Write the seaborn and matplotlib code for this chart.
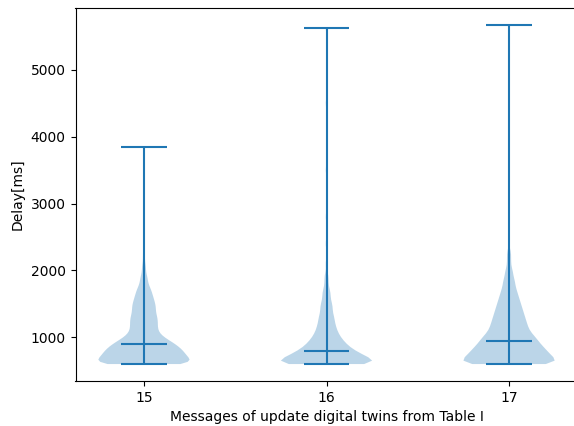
import numpy as np
import matplotlib
matplotlib.use("Agg")
import matplotlib.pyplot as plt
import seaborn as sns

categories = ["15", "16", "17"]

# Delay values [ms] and how many messages had them
g15_values = [600, 650, 700, 750, 800, 850, 900, 950, 1000, 1050, 1100, 1150, 1200,
              1250, 1300, 1350, 1400, 1450, 1500, 1550, 1600, 1650, 1700, 1750,
              1800, 1850, 1900, 1950, 2000, 2050, 2100,
              2200, 2300, 2500, 2800, 3200, 3840]
g15_counts = [30, 24, 22, 21, 20, 18, 16, 13, 10, 8, 7, 7, 7,
              7, 7, 6, 6, 6, 6, 5, 5, 4, 4, 3,
              2, 2, 2, 1, 1, 1, 1,
              1, 1, 1, 1, 1, 1]

g16_values = [600, 650, 700, 750, 800, 850, 900, 950, 1000, 1050, 1100, 1150, 1200,
              1250, 1300, 1350, 1400, 1450, 1500, 1550, 1600, 1650, 1700, 1750,
              1800, 1850, 1900, 1950,
              2100, 2400, 2800, 3500, 4500, 5625]
g16_counts = [30, 24, 20, 17, 14, 11, 10, 8, 7, 6, 5, 5, 4,
              4, 4, 3, 3, 3, 3, 2, 2, 2, 2, 1,
              1, 1, 1, 1,
              1, 1, 1, 1, 1, 1]

g17_values = [600, 650, 700, 750, 800, 850, 900, 950, 1000, 1050, 1100, 1150, 1200,
              1250, 1300, 1350, 1400, 1450, 1500, 1550, 1600, 1650, 1700, 1750,
              1800, 1850, 1900, 1950, 2000, 2050, 2100, 2150, 2200, 2250, 2300,
              2600, 3000, 3600, 4400, 5670]
g17_counts = [29, 23, 21, 20, 18, 17, 15, 14, 13, 11, 10, 9, 9,
              8, 8, 7, 7, 6, 6, 5, 5, 4, 4, 3,
              3, 3, 2, 2, 2, 1, 1, 1, 1, 1, 1,
              1, 1, 1, 1, 1]

samples = [np.repeat(g15_values, g15_counts),
           np.repeat(g16_values, g16_counts),
           np.repeat(g17_values, g17_counts)]

color = sns.color_palette()[0]
kde_sigma = 55.0  # smoothing of the violin outline, in ms

fig = plt.figure(figsize=(5.74, 4.26), dpi=100)
ax = fig.add_axes([75.5 / 574, (426 - 381) / 426, 502 / 574, (381 - 8) / 426])
positions = [1, 2, 3]
for pos, s in zip(positions, samples):
    parts = ax.violinplot([s], positions=[pos], showmedians=True,
                          bw_method=kde_sigma / np.std(s, ddof=1))
    for b in parts["bodies"]:
        b.set_facecolor(color)
        b.set_alpha(0.3)
    for key in ("cmedians", "cmins", "cmaxes", "cbars"):
        parts[key].set_color(color)
ax.set_xticks(positions)
ax.set_xticklabels(categories)
ax.set_xlabel("Messages of update digital twins from Table I")
ax.set_ylabel("Delay[ms]")
fig.savefig("out.png", dpi=100)
